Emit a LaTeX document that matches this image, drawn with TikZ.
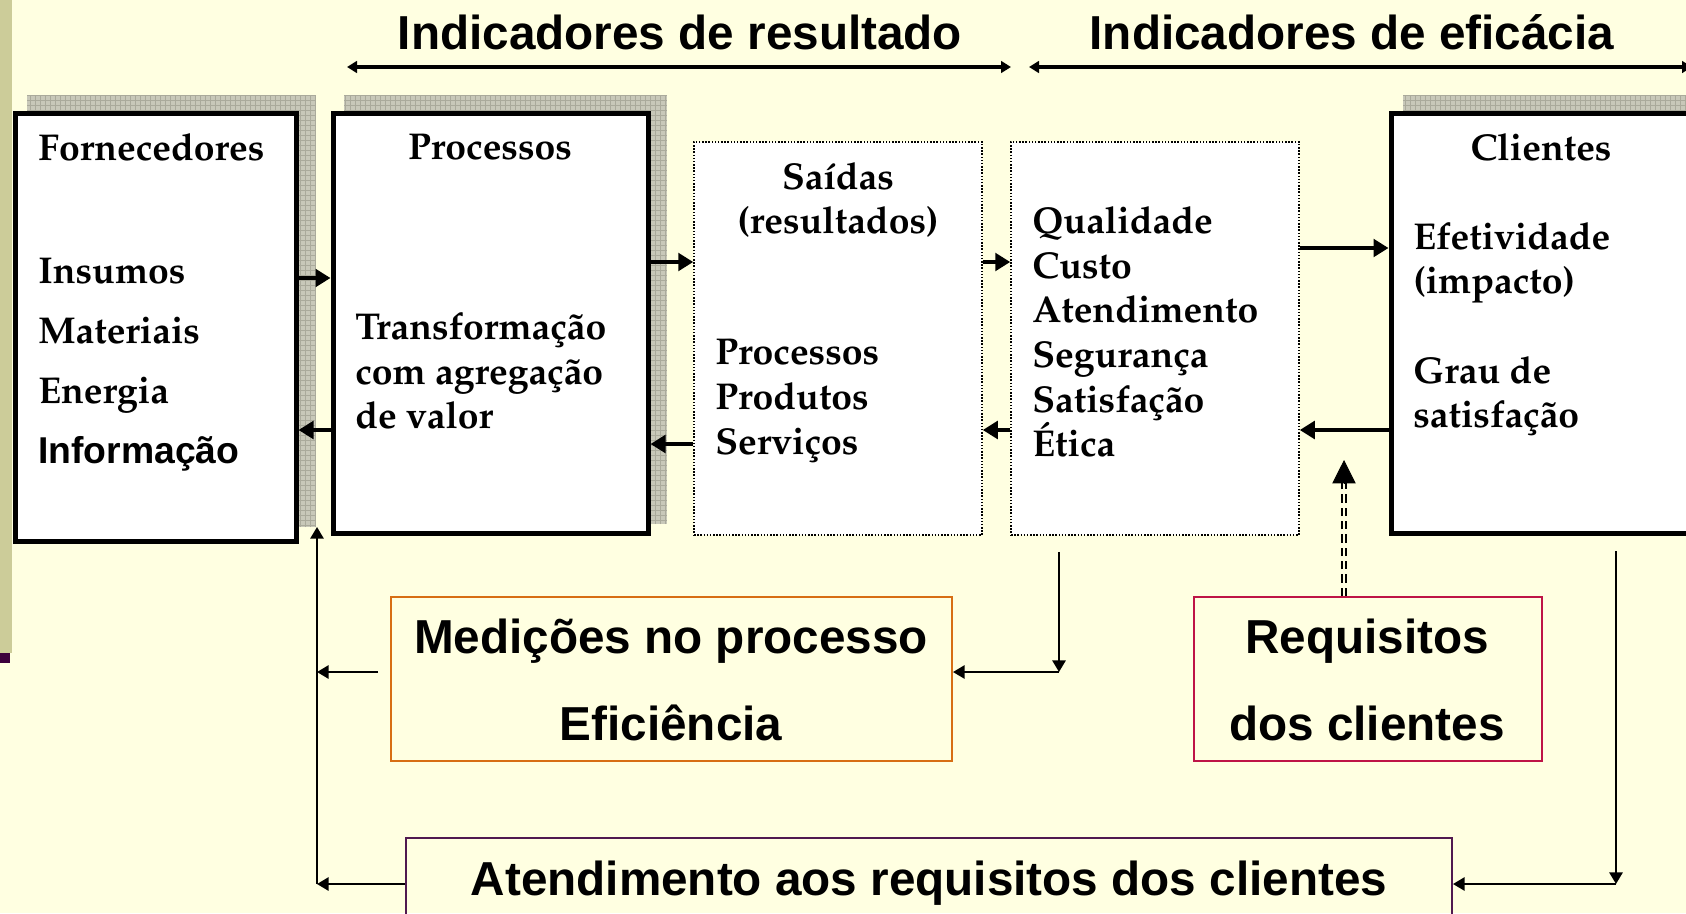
\documentclass[tikz,border=0pt]{standalone}
\usepackage[T1]{fontenc}
\usepackage{fontspec}
\setsansfont{Liberation Sans}
\usetikzlibrary{positioning,fit,arrows.meta}

\definecolor{fundo}{RGB}{255,255,225}
\definecolor{faixa}{RGB}{204,204,153}
\definecolor{roxo}{RGB}{60,0,60}
\definecolor{sombra}{RGB}{200,200,185}
\definecolor{grade}{RGB}{170,170,155}
\definecolor{laranja}{RGB}{215,110,20}
\definecolor{carmim}{RGB}{190,20,70}
\definecolor{violeta}{RGB}{80,25,80}

\newcommand{\serifbf}{\fontencoding{T1}\fontfamily{ppl}\fontseries{b}\selectfont}
\newcommand{\sansbf}{\fontencoding{TU}\fontfamily{\sfdefault}\selectfont\bfseries}

\begin{document}
\begin{tikzpicture}[x=0.6pt,y=-0.6pt]
    \tikzstyle{bbox} = [draw, line width=3pt, fill=white, inner sep=0pt]
    \tikzstyle{dbox} = [draw, densely dotted, line width=0.9pt, fill=white, inner sep=0pt]
    \tikzstyle{mbox} = [draw, line width=1.2pt, inner sep=0pt]
    \tikzstyle{stxt} = [inner sep=0pt, align=left, font=\serifbf\fontsize{22.4}{26.8}\selectfont]
    \tikzstyle{htxt} = [inner sep=0pt, align=center, font=\sansbf\fontsize{28.6}{52}\selectfont]
    \tikzstyle{grossa} = [line width=2.6pt, -{Triangle[length=9pt,width=10.5pt]}]
    \tikzstyle{fina} = [line width=1.2pt, -{Triangle[length=7pt,width=8pt]}]
    \tikzstyle{topo} = [line width=2pt, {Triangle[length=6pt,width=7pt]}-{Triangle[length=6pt,width=7pt]}]
    \tikzstyle{dupla} = [line width=1.1pt, double=fundo, double distance=1.3pt, dash pattern=on 5pt off 3pt]

    \useasboundingbox (0,0) rectangle (1686,913);
    \fill[fundo] (0,0) rectangle (1686,913);
    \fill[faixa] (0,0) rectangle (12,653);
    \fill[roxo] (0,653) rectangle (10,663);

    % sombras
    \fill[sombra] (27,95) rectangle (315,527);
    \draw[grade, line width=0.3pt, step=3pt] (27,95) grid (315,527);
    \fill[sombra] (344,95) rectangle (667,524);
    \draw[grade, line width=0.3pt, step=3pt] (344,95) grid (667,524);
    \fill[sombra] (1403,95) rectangle (1700,520);
    \draw[grade, line width=0.3pt, step=3pt] (1403,95) grid (1700,520);

    % caixas
    \node[bbox, fit={(15,113) (296,541)}] (forn) {};
    \node[bbox, fit={(333,113) (648,533)}] (proc) {};
    \node[dbox, fit={(694,142) (982,535)}] (said) {};
    \node[dbox, fit={(1011,142) (1299,535)}] (qual) {};
    \node[bbox, fit={(1391,113) (1730,533)}] (cli) {};
    \node[mbox, draw=laranja, fit={(391,597) (952,761)}] (medi) {};
    \node[mbox, draw=carmim, fit={(1194,597) (1542,761)}] (requ) {};
    \node[mbox, draw=violeta, fit={(406,838) (1452,960)}] (aten) {};

    % textos
    \node[stxt, anchor=west] (fornT) at (38,147) {Fornecedores};
    \node[stxt, anchor=west, font=\serifbf\fontsize{22.4}{36}\selectfont] (fornL) at (38,365)
        {Insumos\\Materiais\\Energia\\{\sansbf Informação}};
    \node[stxt, align=center] (procT) at (490,147) {Processos};
    \node[stxt, anchor=west] (procL) at (355,371) {Transformação\\com agregação\\de valor};
    \node[stxt, align=center] (saidT) at (838,200) {Saídas\\(resultados)};
    \node[stxt, anchor=west] (saidL) at (715,401) {Processos\\Produtos\\Serviços};
    \node[stxt, anchor=west] (qualL) at (1032,332)
        {Qualidade\\Custo\\Atendimento\\Segurança\\Satisfação\\Ética};
    \node[stxt, align=center] (cliT) at (1541,147) {Clientes};
    \node[stxt, anchor=west] (cliL) at (1413,329)
        {Efetividade\\(impacto)\\[26.8pt]Grau de\\satisfação};
    \node[htxt] (mediT) at (671,680) {Medições no processo\\Eficiência};
    \node[htxt] (requT) at (1367,680) {Requisitos\\dos clientes};
    \node[htxt] (atenT) at (929,883) {Atendimento aos requisitos dos clientes};
    \node[htxt] (tres) at (680,32) {Indicadores de resultado};
    \node[htxt] (tefi) at (1352,32) {Indicadores de eficácia};

    % indicadores
    \coordinate (ir1) at (347,67);
    \coordinate (ir2) at (1011,67);
    \coordinate (ie1) at (1029,67);
    \coordinate (ie2) at (1692,67);
    \draw[topo] (ir1) -- (ir2);
    \draw[topo] (ie1) -- (ie2);

    % fluxo principal
    \draw[grossa] (forn.east |- 0,278) -- (proc.west |- 0,278);
    \draw[grossa] (proc.west |- 0,430) -- (forn.east |- 0,430);
    \draw[grossa] (proc.east |- 0,262) -- (said.west |- 0,262);
    \draw[grossa] (said.west |- 0,444) -- (proc.east |- 0,444);
    \draw[grossa] (said.east |- 0,262) -- (qual.west |- 0,262);
    \draw[grossa] (qual.west |- 0,430) -- (said.east |- 0,430);
    \draw[grossa] (qual.east |- 0,248) -- (cli.west |- 0,248);
    \draw[grossa] (cli.west |- 0,430) -- (qual.east |- 0,430);

    % requisitos
    \coordinate (ponta) at (1344,460);
    \coordinate (pbase) at (1344,483);
    \draw[dupla] (requ.north -| ponta) -- (pbase);
    \draw[line width=0.5pt, -{Triangle[length=14pt,width=14pt]}] (pbase) -- (ponta);

    % retornos
    \coordinate (qc) at (1059,672);
    \draw[fina, shorten <=9.6pt] (qual.south -| qc) -- (qc);
    \draw[fina] (qc) -- (medi.east |- qc);
    \coordinate (rc) at (1616,884);
    \draw[fina, shorten <=9.3pt] (cli.south -| rc) -- (rc);
    \draw[fina] (rc) -- (aten.east |- rc);
    \coordinate (lc) at (317,884);
    \coordinate (lt) at (317,527);
    \draw[fina] (lc) -- (lt);
    \draw[fina] (aten.west |- lc) -- (lc);
    \draw[fina, shorten <=7.2pt] (medi.west |- qc) -- (lc |- qc);
\end{tikzpicture}
\end{document}
